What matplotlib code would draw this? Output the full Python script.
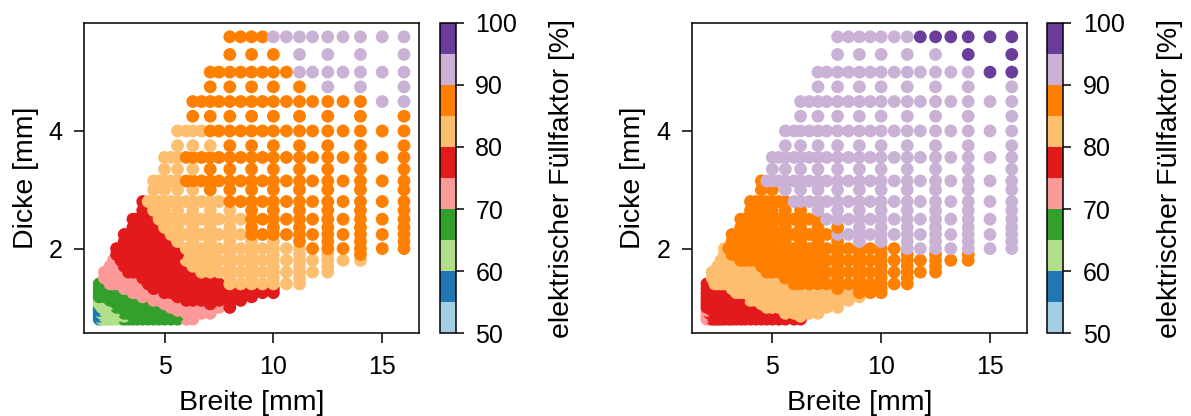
import matplotlib
matplotlib.use('Agg')
import matplotlib.pyplot as plt
from matplotlib.colors import ListedColormap, Normalize

plt.rcParams['font.family'] = ['Liberation Sans', 'DejaVu Sans']
plt.rcParams['font.size'] = 18

# wire widths and thicknesses in mm (grid of the standard sizes)
breite = [2.0, 2.12, 2.24, 2.36, 2.5, 2.65, 2.8, 3.0, 3.15, 3.35, 3.55, 3.75,
          4.0, 4.25, 4.5, 4.75, 5.0, 5.3, 5.6, 6.0, 6.3, 6.7, 7.1, 7.5,
          8.0, 8.5, 9.0, 9.5, 10.0, 10.6, 11.2, 11.8, 12.5, 13.2, 14.0, 15.0, 16.0]
dicke = [0.8, 0.85, 0.9, 0.95, 1.0, 1.06, 1.12, 1.18, 1.25, 1.32, 1.4, 1.5,
         1.6, 1.7, 1.8, 1.9, 2.0, 2.12, 2.24, 2.36, 2.5, 2.65, 2.8, 3.0,
         3.15, 3.35, 3.55, 3.75, 4.0, 4.25, 4.5, 4.75, 5.0, 5.3, 5.6]

# fill factor class per wire (one row per thickness, one char per width)
# digit k -> 50+5k ... 55+5k %, '.' -> no wire of that size
klassen_links = [
    "122222223333333333344................",
    "1.2.2.2.2.3.3.3.3.3.4................",
    "12222222333333333334444..............",
    "1.2.2.2.3.3.3.3.3.4.4.4..............",
    "1222223333333333344444445............",
    "2.2.2.3.3.3.3.3.4.4.4.5.5............",
    "22223333333333444445555555...........",
    "3.3.3.3.3.3.4.4.4.5.5.5.5.5..........",
    "33333333334444445555555555555........",
    "3.3.3.3.4.4.4.5.5.5.5.5.5.5.5........",
    "3333444444444555555555556666666......",
    "..4.4.4.4.4.5.5.5.5.5.5.6.6.6.6......",
    "..4444444555555555555666666666666....",
    "....4.4.5.5.5.5.5.5.6.6.6.6.6.6.6....",
    ".....445555555555556666666666666666..",
    "......5.5.5.5.5.5.5.6.6.6.6.6.6.6.7..",
    "......5555555555555666666666666777777",
    "........5.5.5.5.5.6.6.6.6.6.6.7.7.7.7",
    "........55555555566666666677777777777",
    "..........5.5.5.6.6.6.6.6.7.7.7.7.7.7",
    "..........555556666666666677777777777",
    "............5.6.6.6.6.6.6.7.7.7.7.7.7",
    "............5666666666667777777777777",
    "..............6.6.6.6.7.7.7.7.7.7.7.7",
    "..............66666777777777777777777",
    "................6.6.6.7.7.7.7.7.7.7.7",
    "................666777777777777777777",
    "..................6.6.6.7.7.7.7.7.7.7",
    "..................6666777777777777777",
    "....................7.7.7.7.7.7.7.7.7",
    "....................77777777777777788",
    "......................7.7.7.7.7.8.8.8",
    "......................777777778888888",
    "........................7.7.7.8.8.8.8",
    "........................7777888888888",
]
klassen_rechts = [
    "445555555555555555555................",
    "4.5.5.5.5.5.5.5.5.5.6................",
    "45555555555555555566666..............",
    "4.5.5.5.5.5.5.5.5.6.6.6..............",
    "5555555555555556666666666............",
    "5.5.5.5.5.5.5.6.6.6.6.6.6............",
    "55555555555566666666666666...........",
    "5.5.5.5.5.5.6.6.6.6.6.6.6.6..........",
    "55555555566666666666666666777........",
    "5.5.5.5.6.6.6.6.6.6.6.6.7.7.7........",
    "5556666666666666666777777777777......",
    "..6.6.6.6.6.6.6.6.7.7.7.7.7.7.7......",
    "..6666666666666777777777777777777....",
    "....6.6.6.6.6.7.7.7.7.7.7.7.7.7.7....",
    ".....666667777777777777777777777777..",
    "......6.7.7.7.7.7.7.7.7.7.7.7.7.7.7..",
    "......6777777777777777777777778888888",
    "........7.7.7.7.7.7.7.7.7.8.8.8.8.8.8",
    "........77777777777777778888888888888",
    "..........7.7.7.7.7.7.7.7.8.8.8.8.8.8",
    "..........777777777777788888888888888",
    "............7.7.7.7.7.8.8.8.8.8.8.8.8",
    "............7777777888888888888888888",
    "..............7.7.8.8.8.8.8.8.8.8.8.8",
    "..............78888888888888888888888",
    "................8.8.8.8.8.8.8.8.8.8.8",
    "................888888888888888888888",
    "..................8.8.8.8.8.8.8.8.8.8",
    "..................8888888888888888888",
    "....................8.8.8.8.8.8.8.8.8",
    "....................88888888888888888",
    "......................8.8.8.8.8.8.8.8",
    "......................888888888888899",
    "........................8.8.8.8.8.9.9",
    "........................8888888999999",
]

cbar_ticks = [50, 60, 70, 80, 90, 100]


def punkte(klassen):
    falsch = [(dk, len(z)) for dk, z in zip(dicke, klassen) if len(z) != len(breite)]
    if falsch:
        raise ValueError(f"row length wrong: {falsch}")
    b, d, f = [], [], []
    for dk, zeile in zip(dicke, klassen):
        for bk, z in zip(breite, zeile):
            if z != '.':
                b.append(bk)
                d.append(dk)
                f.append(52.5 + 5 * int(z))
    return b, d, f


cmap = ListedColormap(plt.get_cmap('Paired').colors[:10])
norm = Normalize(50, 100)

fig = plt.figure(figsize=(11.91, 4.16), dpi=100)

ax_pos = [0.0705, 0.5808]
cb_pos = [0.3694, 0.8794]
for i, klassen in enumerate([klassen_links, klassen_rechts]):
    ax = fig.add_axes([ax_pos[i], 0.1988, 0.2815, 0.7466])
    cax = fig.add_axes([cb_pos[i], 0.1988, 0.0134, 0.7466])
    b, d, f = punkte(klassen)
    sc = ax.scatter(b, d, c=f, cmap=cmap, norm=norm, s=85, linewidths=0)
    ax.set_xticks([5, 10, 15])
    ax.set_yticks([2, 4])
    ax.set_xlabel("Breite [mm]", fontsize=20.5, labelpad=8)
    ax.set_ylabel("Dicke [mm]", fontsize=20.5, labelpad=7)
    ax.tick_params(length=7, width=1.1, pad=8.5)
    for sp in ax.spines.values():
        sp.set_linewidth(1.1)
    cbar = fig.colorbar(sc, cax=cax, ticks=cbar_ticks)
    cbar.outline.set_linewidth(1.1)
    cax.tick_params(length=6, width=1.1, pad=8)
    cbar.set_label("elektrischer Füllfaktor [%]", fontsize=20.5, labelpad=23)

fig.savefig("out.png", dpi=100)
